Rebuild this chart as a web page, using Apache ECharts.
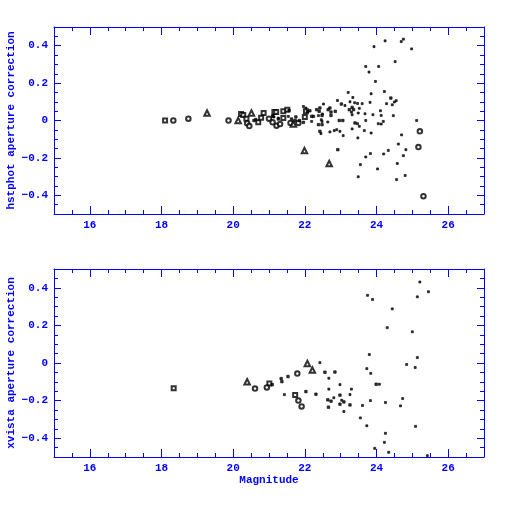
<!DOCTYPE html>
<html>
<head>
<meta charset="utf-8">
<script src="https://cdn.jsdelivr.net/npm/echarts@6/dist/echarts.min.js"></script>
<style>
  html, body { margin: 0; padding: 0; background: #fff; }
  #main { width: 512px; height: 512px; }
</style>
</head>
<body>
<div id="main"></div>
<script>
// axis ranges: short ticks every minor step, long labelled ticks from the nice split
var xRange = [15, 27];
var xMinorStep = 0.5;
var xSplit = 6;        // labels 16, 18, ... 26
var yRange = [-0.5, 0.5];
var yMinorStep = 0.05;
var ySplit = 5;        // labels -0.4, -0.2, ... 0.4

// hstphot panel
var topSquare = [[18.10,0],[20.22,0.035],[20.28,0.03],[20.37,0.01],[20.70,-0.01],[20.78,0.015],[20.85,0.04],[21.15,0.045],[21.2,0.045],[21.40,0.049],[21.51,0.058],[21.40,0.013],[22.03,0.049],[22.0,0.019]];
var topCircle = [[18.33,0],[18.75,0.01],[19.87,0],[20.39,-0.015],[20.45,-0.03],[21.0,0.01],[21.21,-0.028],[21.10,-0.01],[21.31,-0.019],[21.60,-0.013],[21.82,-0.013],[25.21,-0.058],[25.17,-0.142],[25.31,-0.405]];
var topTriangle = [[19.27,0.04],[20.14,0],[20.51,0.04],[21.99,-0.161],[22.68,-0.23],[21.68,-0.019]];
var topFilled = [[20.58,0],[20.63,0.005],[21.11,0.022],[21.26,0.008],[21.63,0.008],[21.73,0],[21.56,0.054],[21.75,0.019],[21.85,0],[21.96,-0.01],[22.07,0.047],[22.14,0.052],[22.19,0.022],[22.24,0.022],[22.33,0.058],[22.40,0.049],[22.42,0.067],[22.48,0.027],[22.38,-0.022],[22.48,-0.022],[22.42,-0.058],[22.70,0.067],[22.65,0.058],[22.73,0.027],[22.73,0.045],[22.85,0.049],[22.92,-0.156],[22.96,0],[23.06,0],[23.02,0.088],[23.24,0.058],[23.32,0.07],[23.36,0.058],[23.40,-0.013],[24.40,0.12]];
var topDot = [[21.10,0.026],[21.14,0.019],[21.26,0.013],[21.54,0.022],[21.96,0.075],[22.03,0.067],[22.52,0.088],[22.49,0.035],[22.38,0.026],[22.46,0.004],[22.48,-0.005],[22.19,-0.005],[22.64,-0.008],[22.91,0.107],[23.21,0.15],[23.34,0.123],[23.26,0.10],[23.39,0.095],[23.47,0.091],[23.12,0.08],[23.30,0.045],[23.49,0.04],[23.52,0.065],[23.32,0.031],[23.47,-0.017],[23.52,-0.031],[23.32,-0.045],[22.45,-0.07],[22.7,-0.061],[22.82,-0.054],[22.89,-0.049],[22.98,-0.058],[23.07,-0.081],[23.48,-0.093],[23.49,-0.301],[23.55,-0.236],[23.60,0.09],[23.66,-0.054],[23.68,0.036],[23.70,0],[23.70,0.289],[23.70,-0.195],[23.79,0.259],[23.82,0.097],[23.85,0.143],[23.85,-0.067],[23.83,-0.177],[23.90,0.031],[23.93,0.395],[23.97,0.209],[24.03,-0.259],[24.05,-0.017],[24.06,0.289],[24.11,0.052],[24.13,0.027],[24.13,-0.019],[24.19,-0.005],[24.20,-0.179],[24.22,0.155],[24.24,0.426],[24.28,0.09],[24.33,-0.16],[24.44,0.084],[24.47,0.026],[24.50,0.099],[24.52,0.315],[24.55,0.106],[24.56,-0.316],[24.58,-0.23],[24.61,-0.126],[24.69,0.422],[24.70,-0.077],[24.75,0.435],[24.75,-0.188],[24.80,-0.294],[24.82,-0.156],[24.98,0.383],[25.12,0]];

// xvista panel
var botSquare = [[18.34,-0.134],[21.01,-0.109],[21.73,-0.17]];
var botCircle = [[20.61,-0.136],[20.94,-0.13],[21.79,-0.056],[21.82,-0.20],[21.91,-0.231]];
var botTriangle = [[20.39,-0.10],[22.07,-0.003],[22.21,-0.037]];
var botFilled = [[21.09,-0.115],[21.34,-0.083],[21.36,-0.099],[21.53,-0.072],[22.56,-0.049],[22.84,-0.048],[22.03,-0.152],[22.31,-0.166],[22.98,-0.219],[23.26,-0.223],[22.64,-0.196],[22.73,-0.203],[22.98,-0.171],[23.09,-0.207],[22.66,-0.235],[23.99,-0.113]];
var botDot = [[21.43,-0.168],[22.42,0.002],[22.67,-0.081],[22.98,-0.115],[22.67,-0.139],[23.30,-0.139],[22.81,-0.185],[23.03,-0.198],[23.09,-0.258],[23.26,-0.168],[23.55,-0.292],[23.61,-0.226],[23.73,-0.03],[23.73,-0.334],[23.75,0.36],[23.80,0.045],[23.83,-0.20],[23.84,-0.055],[23.89,0.338],[23.95,-0.454],[24.08,-0.113],[24.22,-0.422],[24.25,-0.21],[24.25,-0.374],[24.30,0.188],[24.34,-0.475],[24.44,0.288],[24.67,-0.228],[24.73,-0.189],[24.84,-0.008],[25.0,0.166],[25.08,-0.024],[25.09,-0.337],[25.14,0.352],[25.14,0.029],[25.21,0.431],[25.42,-0.493],[25.45,0.379]];

var BLUE = '#0000ff';
var FONT = 'Liberation Mono';
var TEXT = { color: BLUE, fontFamily: FONT, fontSize: 11, fontWeight: 'bold' };

function fmt(v) {
  var n = Math.round(v * 100) / 100;
  if (n === 0) return '0';
  var a = Math.abs(n);
  return (n < 0 ? '\u2212' : '') + (a % 1 === 0 ? String(a) : a.toFixed(1));
}

function hidden(gi, range) {
  return { type: 'value', gridIndex: gi, min: range[0], max: range[1], show: false };
}
function shortAx(gi, range, step, pos, inside) {
  var a = {
    type: 'value', gridIndex: gi, min: range[0], max: range[1], interval: step,
    axisLine: { show: true, onZero: false, lineStyle: { color: BLUE, width: 1 } },
    axisTick: { show: true, inside: inside, length: 4, lineStyle: { color: BLUE, width: 1 } },
    axisLabel: { show: false }, splitLine: { show: false }
  };
  if (pos) a.position = pos;
  return a;
}
function longAx(gi, range, split, pos, inside, labels, name, len, gap) {
  var a = {
    type: 'value', gridIndex: gi, min: range[0], max: range[1], splitNumber: split,
    axisLine: { show: false, onZero: false },
    axisTick: { show: true, inside: inside, length: len, lineStyle: { color: BLUE, width: 1 } },
    axisLabel: {
      show: labels, showMinLabel: false, showMaxLabel: false, formatter: fmt, margin: 6,
      color: BLUE, fontFamily: FONT, fontSize: 11, fontWeight: 'bold'
    },
    splitLine: { show: false }
  };
  if (pos) a.position = pos;
  if (name) {
    a.name = name;
    a.nameLocation = 'middle';
    a.nameGap = gap;
    a.nameMoveOverlap = false;
    a.nameTextStyle = TEXT;
  }
  return a;
}

var grids = [], xAxes = [], yAxes = [];
function addGrid(rect) {
  grids.push({ left: rect[0], top: rect[1], width: rect[2], height: rect[3], outerBoundsMode: 'none' });
  return grids.length - 1;
}

var topRect = [54, 27, 430, 187];
var botRect = [54, 269, 430, 188];

// top panel: data grid + one frame grid holding all four sides
var g = addGrid(topRect);
xAxes.push(hidden(g, xRange)); var topXi = xAxes.length - 1;
yAxes.push(hidden(g, yRange)); var topYi = yAxes.length - 1;
g = addGrid(topRect);
xAxes.push(shortAx(g, xRange, xMinorStep, 'bottom', true));
xAxes.push(longAx(g, xRange, xSplit, 'bottom', true, true, null, 8));
xAxes.push(shortAx(g, xRange, xMinorStep, 'top', true));
xAxes.push(longAx(g, xRange, xSplit, 'top', true, false, null, 8));
yAxes.push(shortAx(g, yRange, yMinorStep, 'left', true));
yAxes.push(longAx(g, yRange, ySplit, 'left', true, true, 'hstphot aperture correction', 7, 37));
yAxes.push(shortAx(g, yRange, yMinorStep, 'right', true));
yAxes.push(longAx(g, yRange, ySplit, 'right', true, false, null, 7));

// bottom panel: data grid + frame grids with one axis pair each
g = addGrid(botRect);
xAxes.push(hidden(g, xRange)); var botXi = xAxes.length - 1;
yAxes.push(hidden(g, yRange)); var botYi = yAxes.length - 1;
g = addGrid(botRect);
xAxes.push(shortAx(g, xRange, xMinorStep, null, true));
yAxes.push(shortAx(g, yRange, yMinorStep, null, true));
g = addGrid(botRect);
xAxes.push(longAx(g, xRange, xSplit, null, true, true, 'Magnitude', 8, 18));
yAxes.push(longAx(g, yRange, ySplit, null, true, true, 'xvista aperture correction', 7, 37));
var aboveRect = [54, 259, 430, 10];
g = addGrid(aboveRect);
xAxes.push(shortAx(g, xRange, xMinorStep, null, false)); yAxes.push(hidden(g, yRange));
g = addGrid(aboveRect);
xAxes.push(longAx(g, xRange, xSplit, null, false, false, null, 8)); yAxes.push(hidden(g, yRange));
var rightRect = [484, 269, 10, 188];
g = addGrid(rightRect);
xAxes.push(hidden(g, xRange)); yAxes.push(shortAx(g, yRange, yMinorStep, null, false));
g = addGrid(rightRect);
xAxes.push(hidden(g, xRange)); yAxes.push(longAx(g, yRange, ySplit, null, false, false, null, 7));

function pts(xi, yi, data, symbol, size) {
  return {
    type: 'scatter', xAxisIndex: xi, yAxisIndex: yi, data: data,
    symbol: symbol, symbolSize: size, silent: true,
    itemStyle: { color: '#000', borderColor: '#000', borderWidth: 0.8 }
  };
}

var chart = echarts.init(document.getElementById('main'));
chart.setOption({
  animation: false,
  grid: grids,
  xAxis: xAxes,
  yAxis: yAxes,
  series: [
    pts(topXi, topYi, topSquare, 'emptyRect', 4),
    pts(topXi, topYi, topCircle, 'emptyCircle', 4.5),
    pts(topXi, topYi, topTriangle, 'emptyTriangle', 5.5),
    pts(topXi, topYi, topFilled, 'rect', 2.5),
    pts(topXi, topYi, topDot, 'rect', 2),
    pts(botXi, botYi, botSquare, 'emptyRect', 4),
    pts(botXi, botYi, botCircle, 'emptyCircle', 4.5),
    pts(botXi, botYi, botTriangle, 'emptyTriangle', 5.5),
    pts(botXi, botYi, botFilled, 'rect', 2.5),
    pts(botXi, botYi, botDot, 'rect', 2)
  ]
});
</script>
</body>
</html>
